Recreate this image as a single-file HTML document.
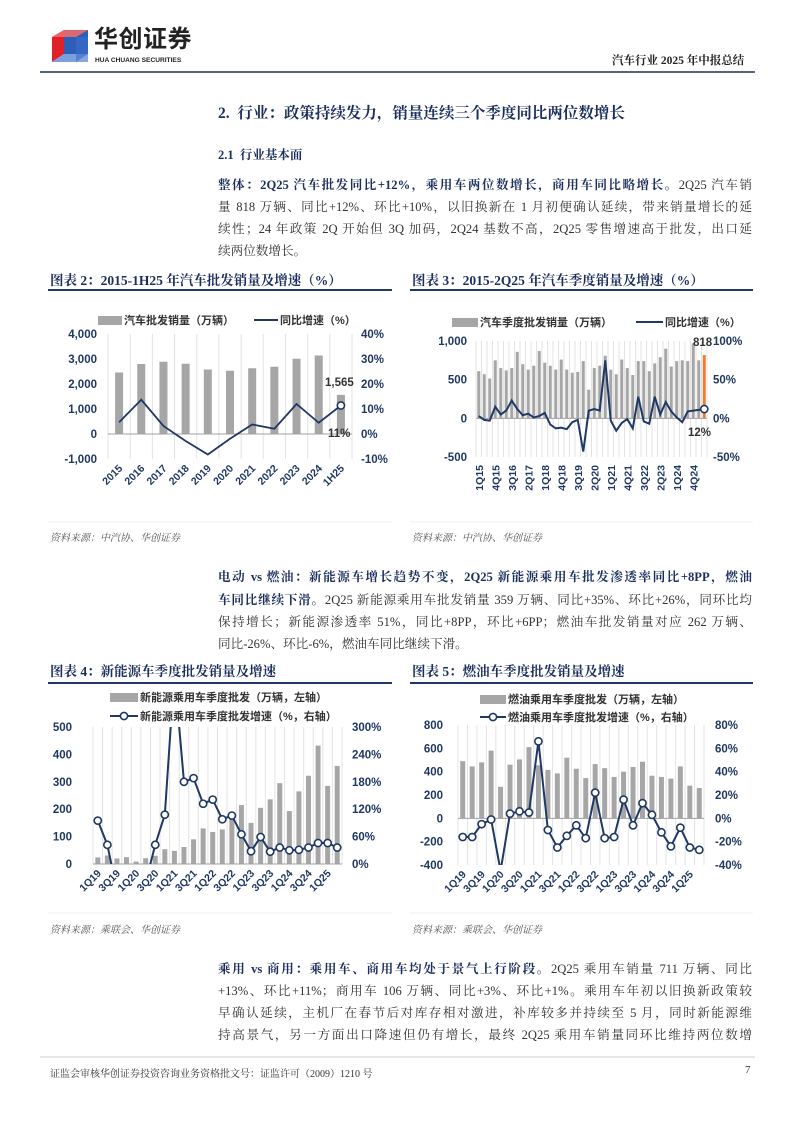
<!DOCTYPE html>
<html><head><meta charset="utf-8">
<style>
html,body{margin:0;padding:0;background:#fff;}
body{width:794px;height:1123px;position:relative;overflow:hidden;font-family:"Liberation Serif","Noto Serif CJK SC",serif;color:#333;}
.a{position:absolute;white-space:nowrap;}
.ln{position:absolute;left:218px;width:534px;font-size:12.6px;text-align:justify;text-align-last:justify;line-height:16px;white-space:nowrap;}
.b{font-weight:bold;color:#1b2f5e;}
.ct{position:absolute;font-weight:bold;color:#1b2f5e;font-size:13.5px;}
.src{position:absolute;font-size:10px;font-style:italic;color:#555;}
</style></head><body>
<svg class="a" style="left:0;top:0" width="794" height="80">
 <polygon points="52,37 64,30 64,54 52,62" fill="#e0212a"/>
 <polygon points="64,30 88,30 88,54 64,54" fill="#2e5fb8"/>
 <polygon points="52,37 64,30 88,30 76,37" fill="#f06a6a" opacity="0.9"/>
 <polygon points="52,62 64,54 88,54 76,62" fill="#7aa0e0"/>
 <rect x="76" y="37" width="12" height="25" fill="#3b6cc9" opacity="0.6"/>
 <line x1="40" y1="72" x2="755" y2="72" stroke="#1b2f5e" stroke-width="1.5"/>
</svg>
<div class="a" style="left:94px;top:26px;font-family:'Liberation Sans','Noto Sans CJK SC',sans-serif;font-weight:bold;font-size:24px;line-height:28px;color:#222;letter-spacing:0.5px;">华创证券</div>
<div class="a" style="left:95px;top:57px;font-family:'Liberation Sans',sans-serif;font-weight:bold;font-size:6.6px;line-height:8px;color:#222;">HUA CHUANG SECURITIES</div>
<div class="a" style="left:612px;top:52px;font-weight:bold;font-size:11.5px;color:#222;">汽车行业 2025 年中报总结</div>

<div class="a" style="left:218px;top:101px;font-weight:bold;font-size:15.5px;color:#1b2f5e;">2.&nbsp; 行业：政策持续发力，销量连续三个季度同比两位数增长</div>
<div class="a" style="left:218px;top:145px;font-weight:bold;font-size:12.5px;color:#1b2f5e;">2.1&nbsp; 行业基本面</div>

<div class="ln" style="top:177px"><span class="b">整体：2Q25 汽车批发同比+12%，乘用车两位数增长，商用车同比略增长。</span>2Q25 汽车销</div>
<div class="ln" style="top:199px">量 818 万辆、同比+12%、环比+10%，以旧换新在 1 月初便确认延续，带来销量增长的延</div>
<div class="ln" style="top:221px">续性；24 年政策 2Q 开始但 3Q 加码，2Q24 基数不高，2Q25 零售增速高于批发，出口延</div>
<div class="ln" style="top:243px;text-align-last:left">续两位数增长。</div>

<div class="ct" style="left:50px;top:269px">图表 2：2015-1H25 年汽车批发销量及增速（%）</div>
<div class="ct" style="left:412px;top:269px">图表 3：2015-2Q25 年汽车季度销量及增速（%）</div>
<div class="src" style="left:50px;top:529px">资料来源：中汽协、华创证券</div>
<div class="src" style="left:412px;top:529px">资料来源：中汽协、华创证券</div>

<div class="ln" style="top:569px"><span class="b">电动 vs 燃油：新能源车增长趋势不变，2Q25 新能源乘用车批发渗透率同比+8PP，燃油</span></div>
<div class="ln" style="top:592px"><span class="b">车同比继续下滑。</span>2Q25 新能源乘用车批发销量 359 万辆、同比+35%、环比+26%，同环比均</div>
<div class="ln" style="top:614px">保持增长；新能源渗透率 51%，同比+8PP，环比+6PP；燃油车批发销量对应 262 万辆、</div>
<div class="ln" style="top:636px;text-align-last:left">同比-26%、环比-6%，燃油车同比继续下滑。</div>

<div class="ct" style="left:50px;top:660px">图表 4：新能源车季度批发销量及增速</div>
<div class="ct" style="left:412px;top:660px">图表 5：燃油车季度批发销量及增速</div>
<div class="src" style="left:50px;top:921px">资料来源：乘联会、华创证券</div>
<div class="src" style="left:412px;top:921px">资料来源：乘联会、华创证券</div>

<div class="ln" style="top:961px"><span class="b">乘用 vs 商用：乘用车、商用车均处于景气上行阶段。</span>2Q25 乘用车销量 711 万辆、同比</div>
<div class="ln" style="top:983px">+13%、环比+11%；商用车 106 万辆、同比+3%、环比+1%。乘用车年初以旧换新政策较</div>
<div class="ln" style="top:1005px">早确认延续，主机厂在春节后对库存相对激进，补库较多并持续至 5 月，同时新能源维</div>
<div class="ln" style="top:1027px">持高景气，另一方面出口降速但仍有增长，最终 2Q25 乘用车销量同环比维持两位数增</div>

<div class="a" style="left:50px;top:1065px;font-size:10px;color:#333;">证监会审核华创证券投资咨询业务资格批文号：证监许可（2009）1210 号</div>
<div class="a" style="left:745px;top:1064px;font-size:11px;color:#333;">7</div>

<svg id="ch" class="a" style="left:0;top:0" width="794" height="1123"></svg>
<script>
var S=document.getElementById('ch'),NS='http://www.w3.org/2000/svg';
function el(t,a,txt,p){var e=document.createElementNS(NS,t);for(var k in a)e.setAttribute(k,a[k]);if(txt!=null)e.textContent=txt;(p||S).appendChild(e);return e;}
var FF='"Liberation Sans","Noto Sans CJK SC",sans-serif',NV='#1f3864';
[[48,392,290],[410,753,290],[48,392,683],[410,753,683]].forEach(function(l){el('line',{x1:l[0],x2:l[1],y1:l[2],y2:l[2],stroke:NV,'stroke-width':2});});
[[48,392,522],[410,753,522],[48,392,913],[410,753,913]].forEach(function(l){el('line',{x1:l[0],x2:l[1],y1:l[2],y2:l[2],stroke:'#e6e6e6','stroke-width':0.6});});
el('line',{x1:40,x2:755,y1:1057,y2:1057,stroke:'#bbb','stroke-width':0.7});
var cid=0;
function chart(c){
 var n=c.bars.length,st=(c.x1-c.x0)/n;
 function yl(v){return c.y0+(v-c.lmin)/(c.lmax-c.lmin)*(c.ytop-c.y0);}
 function yr(v){return c.y0+(v-c.rmin)/(c.rmax-c.rmin)*(c.ytop-c.y0);}
 for(var i=0;i<=n;i++){var x=c.x0+i*st;el('line',{x1:x,x2:x,y1:c.ytop,y2:c.y0,stroke:'#e3e3e3','stroke-width':1});}
 c.bars.forEach(function(v,i){var cx=c.x0+(i+.5)*st,y=yl(v),z=yl(0);el('rect',{x:cx-c.bw/2,y:Math.min(y,z),width:c.bw,height:Math.abs(z-y),fill:(c.last&&i==n-1)?'#ed7d31':'#a6a6a6'});});
 var z=yl(0);el('line',{x1:c.x0,x2:c.x1,y1:z,y2:z,stroke:'#a0a0a0','stroke-width':1});
 c.lt.forEach(function(v){el('text',{x:c.lx,y:yl(v)+4,'text-anchor':'end','font-family':FF,'font-size':c.fs||11.5,'font-weight':'bold',fill:NV},v<0?'-'+(-v).toLocaleString('en-US'):v.toLocaleString('en-US'));});
 c.rt.forEach(function(v){el('text',{x:c.rx,y:yr(v)+4,'font-family':FF,'font-size':c.fs||11.5,'font-weight':'bold',fill:NV},v+'%');});
 cid++;var cp=el('clipPath',{id:'c'+cid});el('rect',{x:c.x0-5,y:c.ytop,width:c.x1-c.x0+10,height:c.y0-c.ytop},null,cp);
 var g=el('g',{'clip-path':'url(#c'+cid+')'});
 var pts=c.line.map(function(v,i){return [c.x0+(i+.5)*st,yr(v)];});
 el('polyline',{points:pts.map(function(p){return p.join(',')}).join(' '),fill:'none',stroke:NV,'stroke-width':c.lw||2},null,g);
 pts.forEach(function(p,i){if(c.mk||i==n-1)el('circle',{cx:p[0],cy:p[1],r:3.6,fill:'#fff',stroke:NV,'stroke-width':1.6},null,g);});
 c.labels.forEach(function(t,i){if(!t)return;var cx=c.x0+(i+.5)*st;
  if(c.rot==90)el('text',{x:cx+4,y:c.y0+8,'text-anchor':'end','font-family':FF,'font-size':10.5,'font-weight':'bold',fill:NV,transform:'rotate(-90 '+(cx+4)+' '+(c.y0+8)+')'},t);
  else el('text',{x:cx+4,y:c.y0+10,'text-anchor':'end','font-family':FF,'font-size':10.5,'font-weight':'bold',fill:NV,transform:'rotate(-45 '+(cx+4)+' '+(c.y0+10)+')'},t);});
}
function legBar(x,y,w,t){el('rect',{x:x,y:y-4,width:w,height:9,fill:'#a6a6a6'});el('text',{x:x+w+2,y:y+4,'font-family':FF,'font-size':11,'font-weight':'bold',fill:'#333'},t);}
function legLine(x,y,w,t,m){el('line',{x1:x,x2:x+w,y1:y,y2:y,stroke:NV,'stroke-width':2});if(m)el('circle',{cx:x+w/2,cy:y,r:3.6,fill:'#fff',stroke:NV,'stroke-width':1.6});el('text',{x:x+w+2,y:y+4,'font-family':FF,'font-size':11,'font-weight':'bold',fill:'#333'},t);}
var yrs=['2015','2016','2017','2018','2019','2020','2021','2022','2023','2024','1H25'];
chart({x0:108,x1:352,ytop:334,y0:459,lmin:-1000,lmax:4000,rmin:-10,rmax:40,bw:8,lw:1.8,
 bars:[2460,2800,2890,2810,2580,2530,2630,2690,3010,3140,1565],
 line:[4.7,13.7,3.2,-2.8,-8.2,-1.9,3.8,2.1,12,4.5,11.4],
 lt:[4000,3000,2000,1000,0,-1000],rt:[40,30,20,10,0,-10],lx:97,rx:361,labels:yrs});
legBar(98,320,24,'汽车批发销量（万辆）');legLine(254,320,24,'同比增速（%）');
el('text',{x:325,y:386,'font-family':FF,'font-size':11.5,'font-weight':'bold',fill:'#333'},'1,565');
el('text',{x:328,y:437,'font-family':FF,'font-size':11.5,'font-weight':'bold',fill:'#333'},'11%');
var qb=[610,570,515,750,650,620,650,860,700,630,680,870,720,680,630,760,630,590,600,740,370,650,680,810,630,570,760,650,560,740,740,610,710,790,900,670,740,750,740,970,750,818];
var ql=[3,-2,-3,15,5,10,23,12,4,6,1,3,7,-8,-13,-12,-14,-5,-2,-43,10,12,10,75,-3,-16,-6,-1,-13,28,-4,-7,28,5,21,9,1,-5,9,10,11,12];
var qlab=[];for(var i=0;i<42;i++){qlab.push(i%3==0?((i%4)+1)+'Q'+(15+Math.floor(i/4)):'');}
chart({x0:476,x1:707,ytop:341,y0:457,lmin:-500,lmax:1000,rmin:-50,rmax:100,bw:3,last:1,
 bars:qb,line:ql,lt:[1000,500,0,-500],rt:[100,50,0,-50],lx:467,rx:713,labels:qlab,rot:90});
legBar(452,322,26,'汽车季度批发销量（万辆）');legLine(636,322,27,'同比增速（%）');
el('text',{x:693,y:346,'font-family':FF,'font-size':11.5,'font-weight':'bold',fill:'#333'},'818');
el('text',{x:688,y:436,'font-family':FF,'font-size':11.5,'font-weight':'bold',fill:'#333'},'12%');
var l26=[];for(var i=0;i<26;i++){l26.push(i%2==0?((i%4)+1)+'Q'+(19+Math.floor(i/4)):'');}
chart({x0:93,x1:342,ytop:727,y0:864,lmin:0,lmax:500,rmin:0,rmax:300,bw:5,mk:1,
 bars:[24,31,20,25,9,21,30,54,48,62,90,130,117,126,175,215,150,205,236,295,193,265,322,432,285,358],
 line:[95,42,-60,-60,-60,-40,42,108,420,180,188,132,141,98,106,65,28,59,27,36,30,31,36,46,46,36],
 lt:[500,400,300,200,100,0],rt:[300,240,180,120,60,0],lx:72,rx:352,labels:l26});
legBar(110,697,28,'新能源乘用车季度批发（万辆，左轴）');legLine(110,716,28,'新能源乘用车季度批发增速（%，右轴）',1);
chart({x0:458,x1:704,ytop:725,y0:865,lmin:-400,lmax:800,rmin:-40,rmax:80,bw:5,mk:1,
 bars:[490,445,480,580,270,460,505,610,455,415,385,520,425,345,465,430,355,400,440,485,365,355,340,445,280,260],
 line:[-16,-16,-5,-1,-45,4,6,5,66,-10,-25,-15,-6,-17,22,-17,-16,16,-6,13,3,-12,-24,-8,-25,-27],
 lt:[800,600,400,200,0,-200,-400],rt:[80,60,40,20,0,-20,-40],lx:443,rx:715,labels:l26});
legBar(480,699,26,'燃油乘用车季度批发（万辆，左轴）');legLine(480,717,26,'燃油乘用车季度批发增速（%，右轴）',1);
</script>
</body></html>
